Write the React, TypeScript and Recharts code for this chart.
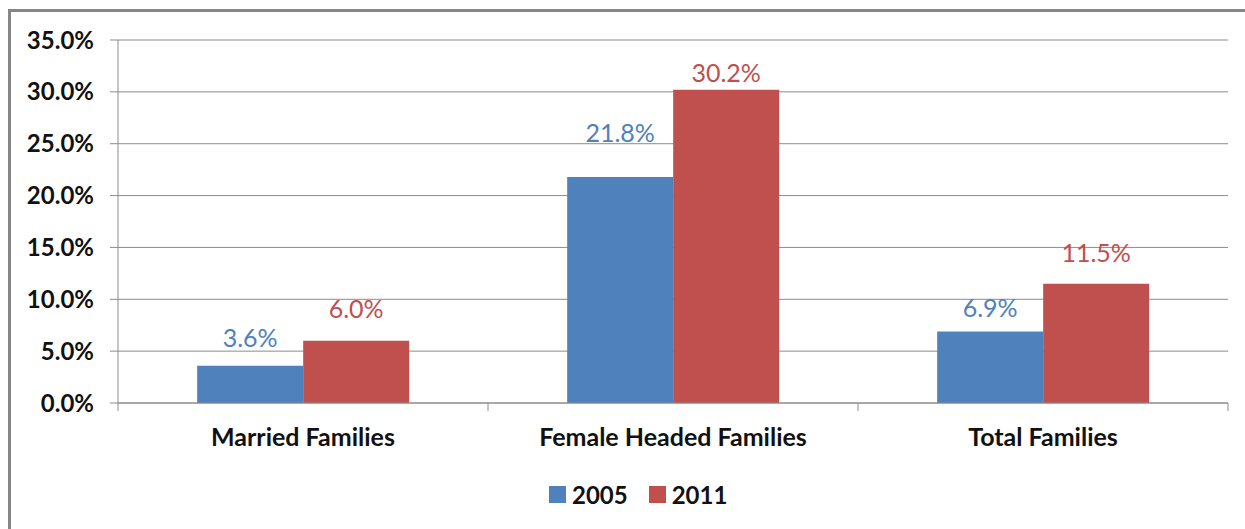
import React from 'react';
import { BarChart, Bar, XAxis, YAxis, CartesianGrid, LabelList } from 'recharts';

const CATEGORIES = ['Married Families', 'Female Headed Families', 'Total Families'];
const VALUES_2005 = [3.6, 21.8, 6.9];
const VALUES_2011 = [6.0, 30.2, 11.5];
const Y_TICKS = [0, 5, 10, 15, 20, 25, 30, 35];

const BLUE = '#4F81BD';
const RED = '#C0504D';
const GRID = '#8c8c8c';
const FONT = 'Lato, "Open Sans", sans-serif';

// layout
const W = 1245;
const H = 529;
const MARGIN = { top: 40, right: 17, left: 0, bottom: 0 };
const Y_AXIS_W = 118;
const X_AXIS_H = 126;
const BAND = (W - MARGIN.right - Y_AXIS_W) / CATEGORIES.length;

// Excel left the labels at uneven heights above the bars
const LIFT_2005 = [19, 35, 14];
const LIFT_2011 = [23, 8, 22];

const data = CATEGORIES.map((name, i) => ({
  name,
  y2005: VALUES_2005[i],
  y2011: VALUES_2011[i],
}));

const SERIES = [
  { key: 'y2005', name: '2005', color: BLUE, lift: LIFT_2005 },
  { key: 'y2011', name: '2011', color: RED, lift: LIFT_2011 },
];

const CategoryTick = (props: any) => {
  const { x, y, payload, index } = props;
  const last = index === CATEGORIES.length - 1;
  return (
    <g>
      <line x1={x - BAND / 2} x2={x - BAND / 2} y1={y} y2={y + 8} stroke={GRID} />
      {last && <line x1={x + BAND / 2} x2={x + BAND / 2} y1={y} y2={y + 8} stroke={GRID} />}
      <text x={x} y={y + 43} textAnchor="middle" fontFamily={FONT} fontWeight="bold" fontSize={25} fill="#111">
        {payload.value}
      </text>
    </g>
  );
};

const makeLabel = (color: string, lift: number[]) => (props: any) => {
  const { x, y, width, value, index } = props;
  return (
    <text x={x + width / 2} y={y - lift[index]} textAnchor="middle" fontFamily={FONT} fontSize={25} fill={color}>
      {`${Number(value).toFixed(1)}%`}
    </text>
  );
};

export default function App() {
  return (
    <div style={{ position: 'absolute', left: 0, top: 0, width: W, height: H, overflow: 'hidden', background: '#fff' }}>
      <div
        style={{
          position: 'absolute',
          left: 8,
          top: 9,
          width: W + 100,
          height: H + 100,
          border: '3px solid #868686',
        }}
      />
      <div style={{ position: 'absolute', left: 0, top: 0 }}>
        <BarChart width={W} height={H} data={data} margin={MARGIN} barCategoryGap="21.4%" barGap={0}>
          <CartesianGrid horizontal vertical={false} stroke={GRID} />
          <YAxis
            width={Y_AXIS_W}
            domain={[0, 35]}
            ticks={Y_TICKS}
            interval={0}
            tickFormatter={(v: number) => `${v.toFixed(1)}%`}
            axisLine={{ stroke: GRID }}
            tickLine={{ stroke: GRID }}
            tickSize={8}
            tickMargin={16}
            tick={{ fill: '#111', fontFamily: FONT, fontWeight: 'bold', fontSize: 24 }}
          />
          <XAxis
            dataKey="name"
            height={X_AXIS_H}
            axisLine={{ stroke: GRID }}
            tickLine={false}
            tickSize={0}
            tickMargin={0}
            interval={0}
            tick={<CategoryTick />}
          />
          {SERIES.map((s) => (
            <Bar key={s.key} dataKey={s.key} name={s.name} fill={s.color} isAnimationActive={false}>
              <LabelList dataKey={s.key} content={makeLabel(s.color, s.lift)} />
            </Bar>
          ))}
        </BarChart>
      </div>
      <div
        style={{
          position: 'absolute',
          left: 549,
          top: 480,
          display: 'flex',
          alignItems: 'center',
          fontFamily: FONT,
          fontWeight: 'bold',
          fontSize: 24,
          color: '#111',
        }}
      >
        {SERIES.map((s) => (
          <div key={s.key} style={{ display: 'flex', alignItems: 'center', marginRight: 21 }}>
            <span style={{ display: 'inline-block', width: 17, height: 17, background: s.color, marginRight: 6 }} />
            <span>{s.name}</span>
          </div>
        ))}
      </div>
    </div>
  );
}
